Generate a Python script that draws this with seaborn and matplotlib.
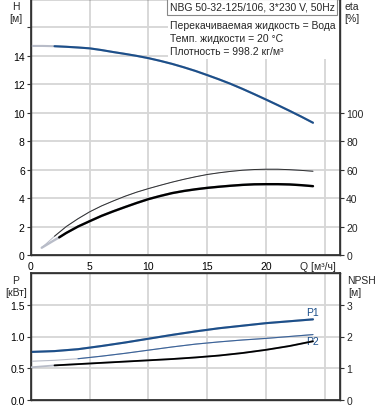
import matplotlib
matplotlib.use("Agg")
import matplotlib.pyplot as plt
import seaborn as sns
import pandas as pd
from matplotlib.patches import Rectangle

sns.set_theme(style="white")
plt.rcParams['font.family'] = ['Liberation Sans', 'DejaVu Sans']
plt.rcParams['font.size'] = 7

# ---- data ----
q_head = [0, 1, 2, 3, 4, 5, 6, 7, 8, 9, 10, 11, 12, 13, 14, 15, 16, 17, 18, 19, 20, 21, 22, 23, 24]
h_head = [14.70, 14.70, 14.68, 14.64, 14.59, 14.53, 14.41, 14.27, 14.14, 14.00, 13.84,
          13.65, 13.44, 13.20, 12.94, 12.65, 12.35, 12.03, 11.68, 11.31, 10.93,
          10.54, 10.14, 9.73, 9.30]

q_eta_p = [0.91, 2, 3, 4, 5, 6, 7, 8, 9, 10, 11, 12, 13, 14, 15, 16, 17, 18, 19, 20, 21, 22, 23, 24]
eta_p = [5.1, 13.2, 20.0, 25.5, 30.4, 34.5, 38.0, 41.3, 44.2, 46.7, 49.0, 51.2, 53.2, 55.0,
         56.6, 57.8, 58.8, 59.6, 60.1, 60.3, 60.3, 60.0, 59.5, 58.9]

q_eta_t = [0.91, 2, 2.4, 3, 4, 5, 6, 7, 8, 9, 10, 11, 12, 13, 14, 15, 16, 17, 18, 19, 20, 21, 22, 23, 24]
eta_t = [5.1, 10.5, 12.4, 15.5, 20.0, 23.8, 27.5, 30.7, 33.7, 36.6, 39.3, 41.5, 43.5, 45.0,
         46.2, 47.2, 48.0, 48.7, 49.3, 49.7, 49.8, 49.8, 49.6, 49.1, 48.4]

q_p = [0, 2, 4, 6, 8, 10, 12, 14, 16, 18, 20, 22, 24]
p1 = [0.757, 0.770, 0.800, 0.850, 0.905, 0.965, 1.025, 1.080, 1.130, 1.170, 1.210, 1.240, 1.270]
p2 = [0.610, 0.625, 0.650, 0.690, 0.735, 0.785, 0.835, 0.880, 0.915, 0.945, 0.970, 1.000, 1.030]

q_npsh = [0, 2, 4, 6, 8, 10, 12, 14, 16, 18, 20, 22, 24]
npsh = [1.03, 1.09, 1.13, 1.17, 1.21, 1.25, 1.29, 1.34, 1.40, 1.48, 1.58, 1.70, 1.85]

x_ticks = [0, 5, 10, 15, 20, 25]
x_labels = ['0', '5', '10', '15', '20', '']

title = "NBG 50-32-125/106, 3*230 V, 50Hz"
info = ["Перекачиваемая жидкость = Вода",
        "Темп. жидкости = 20 °C",
        "Плотность = 998.2 кг/м³"]

BLUE = '#1c4f8a'
LIGHT = '#b8bcc8'
GRID = '#d6d6d6'
SPINE = '#333333'

fig = plt.figure(figsize=(3.78, 4.10), dpi=100)
ax1 = fig.add_axes([31/378, 1-256/410, 309/378, 256/410])
ax2 = fig.add_axes([31/378, 1-401/410, 309/378, 127/410])

XMAX = 26.3

def style(ax, ymax, yticks, ylabels):
    ax.set_xlim(0, XMAX)
    ax.set_ylim(0, ymax)
    ax.set_xticks(x_ticks)
    ax.set_yticks(yticks)
    ax.set_yticklabels(ylabels)
    ax.grid(True, color=GRID, linewidth=1.3)
    ax.set_axisbelow(True)
    for s in ax.spines.values():
        s.set_color(SPINE)
        s.set_linewidth(1.0)
    ax.tick_params(axis='both', length=3, width=0.8, color=SPINE, pad=1.5,
                   labelsize=7.5, labelcolor='black')
    ax.set_xlabel('')
    ax.set_ylabel('')

def line(ax, x, y, color, lw, start=None, zorder=3):
    df = pd.DataFrame({'x': x, 'y': y})
    sns.lineplot(data=df, x='x', y='y', ax=ax, color=LIGHT, linewidth=lw,
                 sort=False, estimator=None, zorder=zorder)
    if start is not None:
        d2 = df[df['x'] >= start]
        sns.lineplot(data=d2, x='x', y='y', ax=ax, color=color, linewidth=lw,
                     sort=False, estimator=None, zorder=zorder + 0.1)

# ---- top axes ----
line(ax1, q_head, h_head, BLUE, 1.5, start=2.0)
ax1t = ax1.twinx()
line(ax1t, q_eta_p, eta_p, '#303030', 0.7, start=2.0)
line(ax1t, q_eta_t, eta_t, 'black', 1.7, start=2.4)

style(ax1, 18, [0, 2, 4, 6, 8, 10, 12, 14, 16], ['0', '2', '4', '6', '8', '10', '12', '14', ''])
ax1.set_xticklabels(x_labels)
ax1t.set_xlim(0, XMAX)
ax1t.set_ylim(0, 180)
ax1t.set_yticks([0, 20, 40, 60, 80, 100])
ax1t.tick_params(axis='y', length=3, width=0.8, color=SPINE, pad=1.5, labelsize=7.5)
ax1t.set_ylabel('')
ax1t.grid(False)
for s in ax1t.spines.values():
    s.set_color(SPINE)

# info panel with white background
ax1.add_patch(Rectangle(((168 - 31)/309, 1 - 60/256), 1, 60/256,
                        transform=ax1.transAxes, facecolor='white',
                        edgecolor='none', zorder=2.5, clip_on=True))
fig.text(170/378, 1 - 8/410, title, fontsize=7.5, va='center', ha='left',
         bbox=dict(boxstyle='square,pad=0.25', facecolor='white',
                   edgecolor='#888888', linewidth=0.8), zorder=10)
for i, t in enumerate(info):
    fig.text(170/378, 1 - (26 + 13 * i)/410, t, fontsize=7.5, va='center', ha='left', zorder=10)

fig.text(16/378, 1 - 7/410, 'H', fontsize=7.5, ha='center', va='center')
fig.text(16/378, 1 - 19/410, '[м]', fontsize=7.5, ha='center', va='center')
fig.text(352/378, 1 - 7/410, 'eta', fontsize=7.5, ha='center', va='center')
fig.text(352/378, 1 - 19/410, '[%]', fontsize=7.5, ha='center', va='center')
fig.text(318/378, 1 - 267/410, 'Q [м³/ч]', fontsize=7.5, ha='center', va='center')

# ---- bottom axes ----
line(ax2, q_p, p1, BLUE, 1.5, start=0)
line(ax2, q_p, p2, '#3a639a', 0.8, start=3.0)
ax2t = ax2.twinx()
line(ax2t, q_npsh, npsh, 'black', 1.3, start=2.0)

style(ax2, 2.0, [0, 0.5, 1.0, 1.5], ['0.0', '0.5', '1.0', '1.5'])
ax2.set_xticklabels([])
ax2t.set_xlim(0, XMAX)
ax2t.set_ylim(0, 4)
ax2t.set_yticks([0, 1, 2, 3])
ax2t.tick_params(axis='y', length=3, width=0.8, color=SPINE, pad=1.5, labelsize=7.5)
ax2t.set_ylabel('')
ax2t.grid(False)
for s in ax2t.spines.values():
    s.set_color(SPINE)

ax2.text(24, 1.27 + 0.04, 'P1', color=BLUE, fontsize=7.5, ha='center', va='bottom')
ax2.text(24, 1.03 - 0.02, 'P2', color=BLUE, fontsize=7.5, ha='center', va='top')

fig.text(16/378, 1 - 281/410, 'P', fontsize=7.5, ha='center', va='center')
fig.text(16/378, 1 - 293/410, '[кВт]', fontsize=7.5, ha='center', va='center')
fig.text(361/378, 1 - 281/410, 'NPSH', fontsize=7.5, ha='center', va='center')
fig.text(355/378, 1 - 293/410, '[м]', fontsize=7.5, ha='center', va='center')

fig.savefig('out.png', dpi=100, facecolor='white')
